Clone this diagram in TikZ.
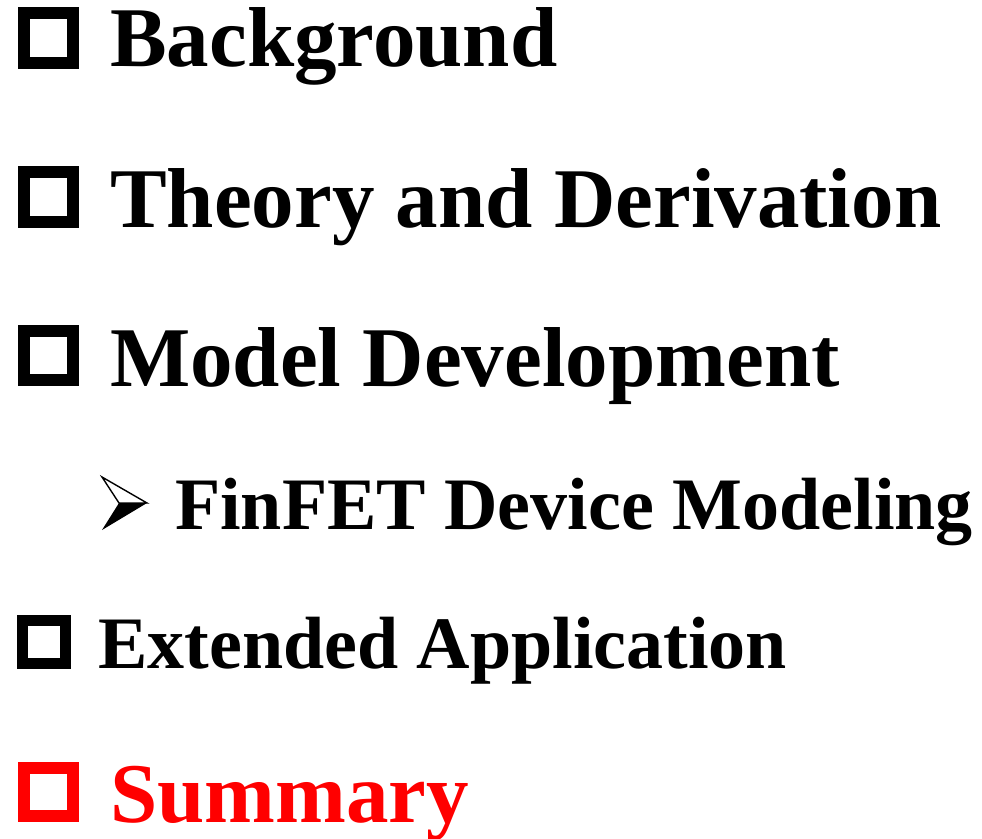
\documentclass[tikz,border=0pt]{standalone}
\usepackage{fontspec}
\setmainfont{Liberation Serif}
\definecolor{hot}{RGB}{255,0,0}
\begin{document}
\begin{tikzpicture}[x=1pt,y=-1pt,
  item/.style={anchor=base west, inner sep=0pt, font=\fontsize{85}{100}\selectfont\bfseries},
  subitem/.style={anchor=base west, inner sep=0pt, font=\fontsize{74}{88}\selectfont\bfseries},
  sqbig/.style={line width=12pt},
  sqsmall/.style={line width=11pt},
]
\useasboundingbox (0,0) rectangle (982,838);
\fill[white] (0,0) rectangle (982,838);

% hollow square bullets
\draw[sqbig] (24,13) rectangle (73,63);
\draw[sqbig] (24,172) rectangle (73,222);
\draw[sqbig] (24,331) rectangle (73,380);
\draw[sqsmall] (22.5,620.5) rectangle (65.5,663.5);
\draw[sqbig, hot] (24,768) rectangle (73,816);

% arrowhead bullet for the sub item
\draw[line width=1.4pt, line join=miter] (102,477) -- (147,503) -- (119,503) -- cycle;
\fill (119,503) -- (147,503) -- (102,530) -- cycle;

% outline entries
\node[item] (bg) at (110,66) {Background};
\node[item] (th) at (110,227) {Theory and Derivation};
\node[item] (md) at (110,386) {Model Development};
\node[subitem] (ff) at (175,529) {FinFET Device Modeling};
\node[subitem] (ea) at (98,668) {Extended Application};
\node[item, text=hot] (sm) at (110,822) {Summary};
\end{tikzpicture}
\end{document}
